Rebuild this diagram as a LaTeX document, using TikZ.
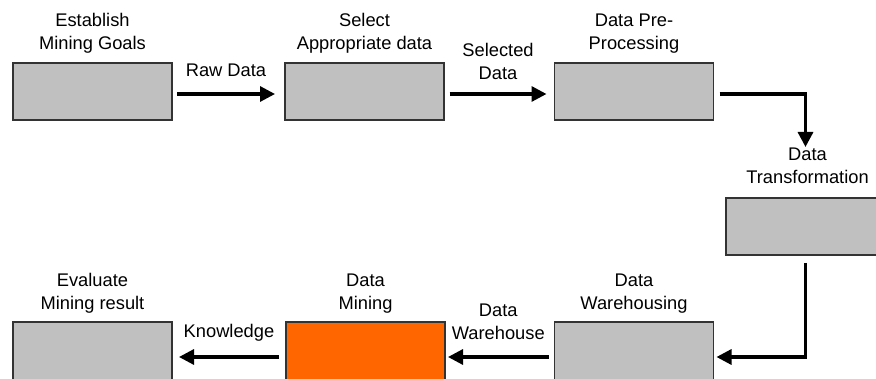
\documentclass[tikz,border=0pt]{standalone}
\usepackage{fontspec}
\setmainfont{Liberation Sans}
\usetikzlibrary{arrows.meta}
\definecolor{boxgray}{HTML}{C0C0C0}
\definecolor{boxorange}{HTML}{FF6600}
\definecolor{edgec}{HTML}{333333}
\begin{document}
\begin{tikzpicture}[x=1pt,y=-1pt,
  box/.style={draw=edgec, line width=1.3pt, fill=boxgray, minimum width=159pt, minimum height=57pt, inner sep=0pt, outer sep=0pt},
  lowbox/.style={box, minimum height=60pt},
  title/.style={font=\fontsize{18.3}{23}\selectfont, align=center, anchor=south, inner sep=0pt, text depth=0pt},
  lbl/.style={font=\fontsize{18.3}{23}\selectfont, align=center, anchor=south, inner sep=0pt, text depth=0pt, midway},
  arr/.style={line width=3.2pt, -{Triangle[length=15pt,width=15pt]}}
]
\useasboundingbox (0,0) rectangle (876,379);
% boxes
\node[box] (b1) at (92.5,91.5) {};
\node[box] (b2) at (364.5,91.5) {};
\node[box] (b3) at (634,91.5) {};
\node[box] (b4) at (805.5,226.5) {};
\node[lowbox] (b5) at (634,352) {};
\node[lowbox, fill=boxorange] (b6) at (365.5,352) {};
\node[lowbox] (b7) at (92.5,352) {};
% titles
\node[title] (t1) at ([yshift=13pt]b1.north) {Establish\\Mining Goals};
\node[title] (t2) at ([yshift=13pt]b2.north) {Select\\Appropriate data};
\node[title] (t3) at ([yshift=13pt]b3.north) {Data Pre-\\Processing};
\node[title] (t4) at ([xshift=2pt,yshift=14pt]b4.north) {Data\\Transformation};
\node[title] (t5) at ([yshift=12pt]b5.north) {Data\\Warehousing};
\node[title] (t6) at ([yshift=12pt]b6.north) {Data\\Mining};
\node[title] (t7) at ([yshift=12pt]b7.north) {Evaluate\\Mining result};
% connectors
\draw[arr] ([xshift=5pt,yshift=-2.5pt]b1.east) -- node[lbl, yshift=16pt] {Raw Data} ([xshift=-10pt,yshift=-2.5pt]b2.west);
\draw[arr] ([xshift=5.5pt,yshift=-2.5pt]b2.east) -- node[lbl, yshift=13pt] {Selected\\Data} ([xshift=-8pt,yshift=-2.5pt]b3.west);
\draw[arr] ([xshift=6pt,yshift=-2.5pt]b3.east) -| ([yshift=51pt]b4.north);
\draw[arr] ([yshift=-8pt]b4.south) |- ([xshift=3pt,yshift=-5pt]b5.east);
\draw[arr] ([xshift=-6pt,yshift=-5pt]b5.west) -- node[lbl, yshift=16pt] {Data\\Warehouse} ([xshift=3pt,yshift=-5pt]b6.east);
\draw[arr] ([xshift=-7pt,yshift=-5pt]b6.west) -- node[lbl, yshift=18pt] {Knowledge} ([xshift=7pt,yshift=-5pt]b7.east);
\end{tikzpicture}
\end{document}
